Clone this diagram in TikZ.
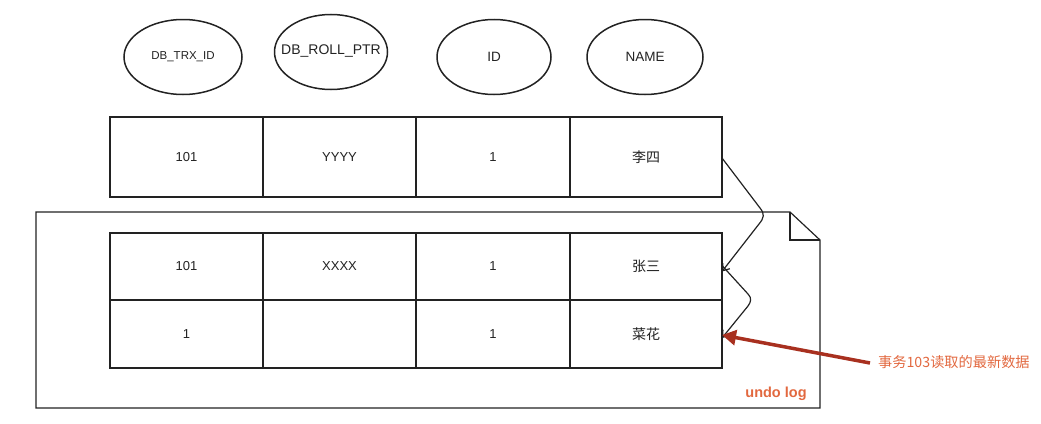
\documentclass[tikz,border=0pt]{standalone}
\usepackage{fontspec}
\setmainfont{Liberation Sans}
\newfontfamily\cjk{Noto Sans CJK SC}
\usetikzlibrary{shapes.geometric,arrows.meta}
\definecolor{arrowred}{HTML}{A8301F}
\definecolor{labelorange}{HTML}{E2683F}
\definecolor{ink}{HTML}{222222}
\begin{document}
\begin{tikzpicture}[x=1pt,y=-1pt,
  field/.style={draw=ink,ellipse,line width=1.5pt,minimum width=118pt,minimum height=75pt,inner sep=0pt,text=ink,font=\fontsize{13.5}{15}\selectfont},
  cell/.style={draw=ink,line width=1.2pt,inner sep=0pt,outer sep=0pt,text=ink,font=\fontsize{13}{15}\selectfont},
  zh/.style={font=\cjk\fontsize{14}{16}\selectfont},
  link/.style={draw=ink,line width=1.2pt,-{Straight Barb[length=6pt,width=9pt,line width=1.2pt]}},
  hot/.style={draw=arrowred,line width=3.5pt,-{Triangle[length=14pt,width=15pt]}}]
\useasboundingbox (0,0) rectangle (1041,423);
% header ellipses
\node[field,font=\fontsize{11.5}{13}\selectfont] (e1) at (183,57) {DB\_TRX\_ID};
\node[field,minimum width=113pt,font=\fontsize{14}{16}\selectfont] (e2) at (331,52) {\raisebox{4pt}{\makebox[0pt]{DB\_ROLL\_PTR}}};
\node[field,minimum width=114pt] (e3) at (494,57) {ID};
\node[field,minimum width=116pt] (e4) at (645,57) {NAME};
% undo log frame with folded corner
\draw[draw=ink,line width=1.2pt] (36,212) -- (790,212) -- (820,240) -- (820,408) -- (36,408) -- cycle;
\draw[draw=ink,line width=1.2pt] (790,212) -- (790,240) -- (820,240);
\node[font=\bfseries\fontsize{14.5}{16}\selectfont,text=labelorange] (ul) at (776,394) {undo log};
% top row
\node[cell,minimum width=153pt,minimum height=80pt] (t1) at (186.5,157) {101};
\node[cell,minimum width=153pt,minimum height=80pt] (t2) at (339.5,157) {YYYY};
\node[cell,minimum width=154pt,minimum height=80pt] (t3) at (493,157) {1};
\node[cell,zh,minimum width=152pt,minimum height=80pt] (t4) at (646,157) {李四};
% undo row 1
\node[cell,minimum width=153pt,minimum height=67pt] (a1) at (186.5,266.5) {101};
\node[cell,minimum width=153pt,minimum height=67pt] (a2) at (339.5,266.5) {XXXX};
\node[cell,minimum width=154pt,minimum height=67pt] (a3) at (493,266.5) {1};
\node[cell,zh,minimum width=152pt,minimum height=67pt] (a4) at (646,266.5) {张三};
% undo row 2
\node[cell,minimum width=153pt,minimum height=68pt] (b1) at (186.5,334) {1};
\node[cell,minimum width=153pt,minimum height=68pt] (b2) at (339.5,334) {};
\node[cell,minimum width=154pt,minimum height=68pt] (b3) at (493,334) {1};
\node[cell,zh,minimum width=152pt,minimum height=68pt] (b4) at (646,334) {菜花};
% version chain links
\draw[link] ([yshift=-1pt]t4.east) -- (760,208) .. controls (765,214) and (764,218) .. (759,224) -- ([yshift=-5pt]a4.east);
\draw[link] ([yshift=1pt]a4.east) -- (748,294) .. controls (752,298) and (751,302) .. (748,306) -- ([yshift=-4pt]b4.east);
% label and red arrow
\node[font=\cjk\fontsize{14.2}{16}\selectfont,text=labelorange,anchor=west,inner sep=0pt] (lbl) at (878,362) {事务103读取的最新数据};
\draw[hot] ([xshift=-8pt,yshift=-1pt]lbl.west) -- ([yshift=-1pt]b4.east);
\end{tikzpicture}
\end{document}
